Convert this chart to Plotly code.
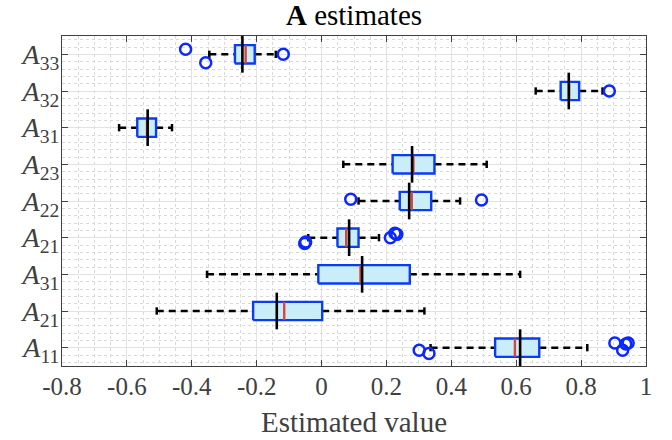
import plotly.graph_objects as go

# Categories, bottom to top
cat_labels = ["A<sub>11</sub>", "A<sub>21</sub>", "A<sub>31</sub>", "A<sub>21</sub>", "A<sub>22</sub>",
              "A<sub>23</sub>", "A<sub>31</sub>", "A<sub>32</sub>", "A<sub>33</sub>"]
cat_pos = [1, 2, 3, 4, 5, 6, 7, 8, 9]

q1 = [0.535, -0.211, -0.010, 0.049, 0.241, 0.219, -0.568, 0.737, -0.267]
median = [0.596, -0.115, 0.120, 0.076, 0.278, 0.283, -0.538, 0.763, -0.234]
q3 = [0.671, 0.002, 0.272, 0.114, 0.338, 0.348, -0.510, 0.794, -0.206]
whisk_lo = [0.336, -0.508, -0.353, -0.041, 0.114, 0.067, -0.624, 0.660, -0.346]
whisk_hi = [0.819, 0.317, 0.612, 0.177, 0.427, 0.509, -0.461, 0.866, -0.141]
true_val = [0.612, -0.138, 0.125, 0.085, 0.270, 0.279, -0.536, 0.762, -0.244]

# Outliers: category index (0-based, bottom to top), value, vertical jitter
out_cat = [8, 8, 8, 7, 4, 4, 3, 3, 3, 3, 3, 0, 0, 0, 0, 0, 0]
out_val = [-0.419, -0.357, -0.118, 0.887, 0.090, 0.493, -0.052, -0.049, 0.212, 0.226, 0.232,
           0.301, 0.331, 0.904, 0.928, 0.945, 0.938]
out_jit = [0.14, -0.23, 0.0, 0.0, 0.05, 0.03, -0.16, -0.12, 0.0, 0.12, 0.09,
           -0.07, -0.16, 0.13, -0.07, 0.13, 0.10]

x_ticks = [-0.8, -0.6, -0.4, -0.2, 0, 0.2, 0.4, 0.6, 0.8, 1]
x_tick_text = ["-0.8", "-0.6", "-0.4", "-0.2", "0", "0.2", "0.4", "0.6", "0.8", "1"]

title = "<b>A</b> estimates"
x_title = "Estimated value"

BOX_HALF = 0.25
CAP_HALF = 0.1
TRUE_HALF = 0.5

box_x, box_y = [], []
wx, wy = [], []
capx, capy = [], []
medx, medy = [], []
tx, ty = [], []
for i, p in enumerate(cat_pos):
    box_x += [q1[i], q3[i], q3[i], q1[i], q1[i], None]
    box_y += [p - BOX_HALF, p - BOX_HALF, p + BOX_HALF, p + BOX_HALF, p - BOX_HALF, None]
    wx += [whisk_lo[i], q1[i], None, q3[i], whisk_hi[i], None]
    wy += [p, p, None, p, p, None]
    capx += [whisk_lo[i], whisk_lo[i], None, whisk_hi[i], whisk_hi[i], None]
    capy += [p - CAP_HALF, p + CAP_HALF, None, p - CAP_HALF, p + CAP_HALF, None]
    medx += [median[i], median[i], None]
    medy += [p - BOX_HALF, p + BOX_HALF, None]
    tx += [true_val[i], true_val[i], None]
    ty += [p - TRUE_HALF, p + TRUE_HALF, None]

ox = out_val
oy = [cat_pos[c] + j for c, j in zip(out_cat, out_jit)]

fig = go.Figure()
fig.add_trace(go.Scatter(x=wx, y=wy, mode="lines",
                         line=dict(color="black", width=2.5, dash="7px,5px"), hoverinfo="skip"))
fig.add_trace(go.Scatter(x=capx, y=capy, mode="lines",
                         line=dict(color="black", width=2.5), hoverinfo="skip"))
fig.add_trace(go.Scatter(x=box_x, y=box_y, mode="lines", fill="toself",
                         fillcolor="#c9edf9", line=dict(color="#0a3cf5", width=2.4), hoverinfo="skip"))
fig.add_trace(go.Scatter(x=medx, y=medy, mode="lines",
                         line=dict(color="#d9453a", width=2.4), hoverinfo="skip"))
fig.add_trace(go.Scatter(x=tx, y=ty, mode="lines",
                         line=dict(color="black", width=2.6), hoverinfo="skip"))
fig.add_trace(go.Scatter(x=ox, y=oy, mode="markers",
                         marker=dict(symbol="circle-open", size=11, color="#0a28ff",
                                     line=dict(width=2.5, color="#0a28ff")), hoverinfo="skip"))

font_family = "Liberation Serif, DejaVu Serif, serif"
axis_color = "#404040"

fig.update_layout(
    width=672, height=440,
    margin=dict(l=62, r=26, t=36, b=74, autoexpand=False),
    plot_bgcolor="white", paper_bgcolor="white",
    showlegend=False,
    title=dict(text=title, x=0.5, xanchor="center", xref="paper",
               y=1 - 15 / 440, yref="container", yanchor="middle",
               font=dict(family=font_family, size=29, color="black")),
    font=dict(family=font_family, color=axis_color),
)
fig.update_xaxes(
    range=[-0.8, 1], tickvals=x_ticks, ticktext=x_tick_text,
    ticks="inside", ticklen=6, tickcolor=axis_color, tickwidth=1,
    showline=True, linecolor=axis_color, linewidth=1.2, mirror="ticks",
    showgrid=True, gridcolor="#e2e2e2", gridwidth=1,
    minor=dict(dtick=0.05, tick0=0, showgrid=True, gridcolor="#d9d9d9", griddash="dot", gridwidth=1, ticks=""),
    zeroline=False, automargin=False,
    tickfont=dict(family=font_family, size=25, color=axis_color),
    ticklabelstandoff=-2,
    title=dict(text=x_title, font=dict(family=font_family, size=29, color=axis_color), standoff=12),
)
fig.update_yaxes(
    range=[0.5, 9.5], tickvals=cat_pos, ticktext=["<i>A</i>" + t[1:] for t in cat_labels],
    ticks="inside", ticklen=6, tickcolor=axis_color, tickwidth=1,
    showline=True, linecolor=axis_color, linewidth=1.2, mirror="ticks",
    showgrid=True, gridcolor="#e2e2e2", gridwidth=1,
    minor=dict(dtick=0.2, tick0=0.6, showgrid=True, gridcolor="#d9d9d9", griddash="dot", gridwidth=1, ticks=""),
    zeroline=False, automargin=False,
    ticklabelstandoff=-4,
    tickfont=dict(family=font_family, size=28, color=axis_color),
)

fig.write_html("out.html", config={"displayModeBar": False},
               post_script="document.body.style.margin='0';")
